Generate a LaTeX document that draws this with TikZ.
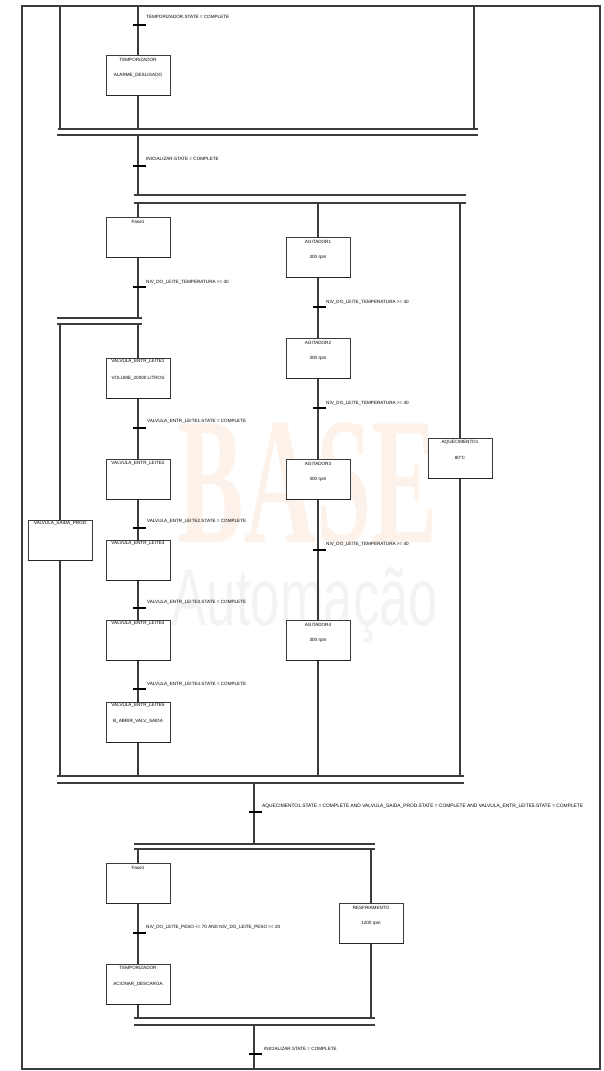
\documentclass[tikz,border=0pt]{standalone}
\usepackage{fontspec}
\setmainfont{Liberation Sans}
\newfontfamily\wmserif{Liberation Serif}
\definecolor{wmA}{RGB}{252,242,234}
\definecolor{wmB}{RGB}{243,243,243}
\definecolor{ln}{RGB}{60,60,60}
\begin{document}
\begin{tikzpicture}[x=1pt,y=-1pt,
  link/.style={draw=ln, line width=1.1pt},
  framebox/.style={draw=ln, line width=1.4pt},
  tick/.style={draw=black, line width=1.7pt},
  bar/.style={draw=ln, line width=1.4pt},
  stepbox/.style={draw=ln, line width=1pt, minimum width=64pt, minimum height=40pt, inner sep=0pt, fill=white},
  txt/.style={font=\fontsize{4.6}{5.5}\selectfont, inner sep=0pt, text=black},
  tlabel/.style={txt, anchor=west}]
\useasboundingbox (0,0) rectangle (604,1071);
% watermark
\node[font=\wmserif\bfseries\fontsize{181}{181}\selectfont, text=wmA, inner sep=0pt] (wm1) at (308,483) {\scalebox{0.55}[1]{BASE}};
\node[font=\fontsize{81}{81}\selectfont, text=wmB, inner sep=0pt, anchor=base] (wm2) at (305,625) {\scalebox{0.65}[1]{Automação}};
% frame
\draw[framebox] (22,6) rectangle (600,1069);
% ---- top section
\coordinate (tl) at (60,6);
\coordinate (tr) at (474,6);
\coordinate (tm) at (138,6);
\coordinate (j1a) at (58,129); \coordinate (j1b) at (478,129);
\coordinate (j2a) at (57,135); \coordinate (j2b) at (478,135);
\node[stepbox] (s0) at (138,75) {};
\node[txt] (s0t) at ([yshift=-5pt]s0.north) {TEMPORIZADOR};
\node[txt] (s0a) at (s0.center) {ALARME\_DESLIGADO};
\draw[link] (tl) -- (tl |- j1a);
\draw[link] (tr) -- (tr |- j1a);
\draw[link] (tm) -- (s0.north);
\draw[link] (s0.south) -- (s0.south |- j1a);
\draw[bar] (j1a) -- (j1b);
\draw[bar] (j2a) -- (j2b);
\coordinate (t0) at (138,25);
\draw[tick] ([xshift=-5pt]t0) -- ([xshift=8pt]t0);
\node[tlabel] (t0l) at (146,17) {TEMPORIZADOR.STATE = COMPLETE};
% ---- second
\coordinate (d1a) at (134,195); \coordinate (d1b) at (466,195);
\coordinate (d2a) at (134,203); \coordinate (d2b) at (466,203);
\draw[link] (s0.south |- j2a) -- (s0.south |- d1a);
\coordinate (t1) at (138,166);
\draw[tick] ([xshift=-5pt]t1) -- ([xshift=8pt]t1);
\node[tlabel] (t1l) at (146,159) {INICIALIZAR.STATE = COMPLETE};
\draw[bar] (d1a) -- (d1b);
\draw[bar] (d2a) -- (d2b);
% steps column A
\node[stepbox] (F1) at (138,237) {};
\node[txt] (F1t) at ([yshift=-5pt]F1.north) {Fase1};
\node[stepbox] (V1) at (138,378) {};
\node[txt] (V1t) at ([yshift=-4pt]V1.north) {VALVULA\_ENTR\_LEITE1};
\node[txt] (V1a) at (V1.center) {VOLUME\_20000 LITROS};
\node[stepbox] (V2) at (138,479) {};
\node[txt] (V2t) at ([yshift=-5pt]V2.north) {VALVULA\_ENTR\_LEITE2};
\node[stepbox] (V3) at (138,560) {};
\node[txt] (V3t) at ([yshift=-4pt]V3.north) {VALVULA\_ENTR\_LEITE3};
\node[stepbox] (V4) at (138,640) {};
\node[txt] (V4t) at ([yshift=-4pt]V4.north) {VALVULA\_ENTR\_LEITE4};
\node[stepbox] (V5) at (138,722) {};
\node[txt] (V5t) at ([yshift=-4pt]V5.north) {VALVULA\_ENTR\_LEITE5};
\node[txt] (V5a) at ([yshift=1pt]V5.center) {B\_ABRIR\_VALV\_SAIDA};
\node[stepbox] (FL) at (60,540) {};
\node[txt] (FLt) at ([yshift=-4pt]FL.north) {VALVULA\_SAIDA\_PROD};
% column B
\node[stepbox] (A1) at (318,257) {};
\node[txt] (A1t) at ([yshift=-5pt]A1.north) {AGITADOR1};
\node[txt] (A1a) at (A1.center) {300 rpm};
\node[stepbox] (A2) at (318,358) {};
\node[txt] (A2t) at ([yshift=-5pt]A2.north) {AGITADOR2};
\node[txt] (A2a) at (A2.center) {300 rpm};
\node[stepbox] (A3) at (318,479) {};
\node[txt] (A3t) at ([yshift=-5pt]A3.north) {AGITADOR3};
\node[txt] (A3a) at (A3.center) {300 rpm};
\node[stepbox] (A4) at (318,640) {};
\node[txt] (A4t) at ([yshift=-5pt]A4.north) {AGITADOR4};
\node[txt] (A4a) at (A4.center) {300 rpm};
% column C
\node[stepbox] (AQ) at (460,458) {};
\node[txt] (AQt) at ([yshift=-5pt]AQ.north) {AQUECIMENTO1};
\node[txt] (AQa) at (AQ.center) {80°C};
% branches from divergence
\draw[link] (F1.north |- d2a) -- (F1.north);
\draw[link] (A1.north |- d2a) -- (A1.north);
\draw[link] (AQ.north |- d2a) -- (AQ.north);
% left sub divergence
\coordinate (e1a) at (57,318); \coordinate (e1b) at (142,318);
\coordinate (e2a) at (57,324); \coordinate (e2b) at (142,324);
\draw[link] (F1.south) -- (F1.south |- e1a);
\coordinate (tF) at (138,287);
\draw[tick] ([xshift=-5pt]tF) -- ([xshift=8pt]tF);
\node[tlabel] (tFl) at (146,282) {NIV\_DO\_LEITE\_TEMPERATURA >= 40};
\draw[bar] (e1a) -- (e1b);
\draw[bar] (e2a) -- (e2b);
\draw[link] (FL.north |- e2a) -- (FL.north);
\draw[link] (V1.north |- e2a) -- (V1.north);
% V chain
\draw[link] (V1.south) -- (V2.north);
\draw[link] (V2.south) -- (V3.north);
\draw[link] (V3.south) -- (V4.north);
\draw[link] (V4.south) -- (V5.north);
\coordinate (tv1) at (138,428);
\coordinate (tv2) at (138,528);
\coordinate (tv3) at (138,608);
\coordinate (tv4) at (138,689);
\foreach \t in {tv1,tv2,tv3,tv4} \draw[tick] ([xshift=-5pt]\t) -- ([xshift=8pt]\t);
\node[tlabel] (tv1l) at (147,421) {VALVULA\_ENTR\_LEITE1.STATE = COMPLETE};
\node[tlabel] (tv2l) at (147,521) {VALVULA\_ENTR\_LEITE2.STATE = COMPLETE};
\node[tlabel] (tv3l) at (147,602) {VALVULA\_ENTR\_LEITE3.STATE = COMPLETE};
\node[tlabel] (tv4l) at (147,684) {VALVULA\_ENTR\_LEITE4.STATE = COMPLETE};
% A chain
\draw[link] (A1.south) -- (A2.north);
\draw[link] (A2.south) -- (A3.north);
\draw[link] (A3.south) -- (A4.north);
\coordinate (ta1) at (318,307);
\coordinate (ta2) at (318,408);
\coordinate (ta3) at (318,550);
\foreach \t in {ta1,ta2,ta3} \draw[tick] ([xshift=-5pt]\t) -- ([xshift=8pt]\t);
\node[tlabel] (ta1l) at (326,302) {NIV\_DO\_LEITE\_TEMPERATURA >= 40};
\node[tlabel] (ta2l) at (326,403) {NIV\_DO\_LEITE\_TEMPERATURA >= 40};
\node[tlabel] (ta3l) at (326,544) {NIV\_DO\_LEITE\_TEMPERATURA >= 40};
% convergence
\coordinate (g1a) at (57,776); \coordinate (g1b) at (464,776);
\coordinate (g2a) at (57,783); \coordinate (g2b) at (464,783);
\draw[link] (FL.south) -- (FL.south |- g1a);
\draw[link] (V5.south) -- (V5.south |- g1a);
\draw[link] (A4.south) -- (A4.south |- g1a);
\draw[link] (AQ.south) -- (AQ.south |- g1a);
\draw[bar] (g1a) -- (g1b);
\draw[bar] (g2a) -- (g2b);
% ---- bottom section
\coordinate (m1) at (254,783);
\coordinate (h1a) at (134,844); \coordinate (h1b) at (375,844);
\coordinate (h2a) at (134,849); \coordinate (h2b) at (375,849);
\draw[link] (m1) -- (m1 |- h1a);
\coordinate (tg) at (254,812);
\draw[tick] ([xshift=-5pt]tg) -- ([xshift=8pt]tg);
\node[tlabel, font=\fontsize{4.85}{6}\selectfont] (tgl) at (262,806) {AQUECIMENTO1.STATE = COMPLETE AND VALVULA\_SAIDA\_PROD.STATE = COMPLETE AND VALVULA\_ENTR\_LEITE5.STATE = COMPLETE};
\draw[bar] (h1a) -- (h1b);
\draw[bar] (h2a) -- (h2b);
\node[stepbox] (F2) at (138,883) {};
\node[txt] (F2t) at ([yshift=-5pt]F2.north) {Fase1};
\node[stepbox] (TM) at (138,984) {};
\node[txt] (TMt) at ([yshift=-4pt]TM.north) {TEMPORIZADOR};
\node[txt] (TMa) at (TM.center) {ACIONAR\_DESCARGA};
\node[stepbox] (RF) at (371,923) {};
\node[txt] (RFt) at ([yshift=-5pt]RF.north) {RESFRIAMENTO};
\node[txt] (RFa) at (RF.center) {1200 rpm};
\draw[link] (F2.north |- h2a) -- (F2.north);
\draw[link] (RF.north |- h2a) -- (RF.north);
\draw[link] (F2.south) -- (TM.north);
\coordinate (tb) at (138,933);
\draw[tick] ([xshift=-5pt]tb) -- ([xshift=8pt]tb);
\node[tlabel] (tbl) at (146,927) {NIV\_DO\_LEITE\_PESO <= 70 AND NIV\_DO\_LEITE\_PESO >= 20};
\coordinate (k1a) at (134,1018); \coordinate (k1b) at (375,1018);
\coordinate (k2a) at (134,1025); \coordinate (k2b) at (375,1025);
\draw[link] (TM.south) -- (TM.south |- k1a);
\draw[link] (RF.south) -- (RF.south |- k1a);
\draw[bar] (k1a) -- (k1b);
\draw[bar] (k2a) -- (k2b);
\coordinate (m2) at (254,1025);
\coordinate (m3) at (254,1069);
\draw[link] (m2) -- (m3);
\coordinate (tz) at (254,1054);
\draw[tick] ([xshift=-5pt]tz) -- ([xshift=8pt]tz);
\node[tlabel] (tzl) at (264,1049) {INICIALIZAR.STATE = COMPLETE};
% thicker bottom edges of steps
\foreach \n in {s0,F1,V1,V2,V3,V4,V5,FL,A1,A2,A3,A4,AQ,F2,TM,RF}
  \draw[line width=1.6pt, draw=black!85] (\n.south west) -- (\n.south east);
\end{tikzpicture}
\end{document}
